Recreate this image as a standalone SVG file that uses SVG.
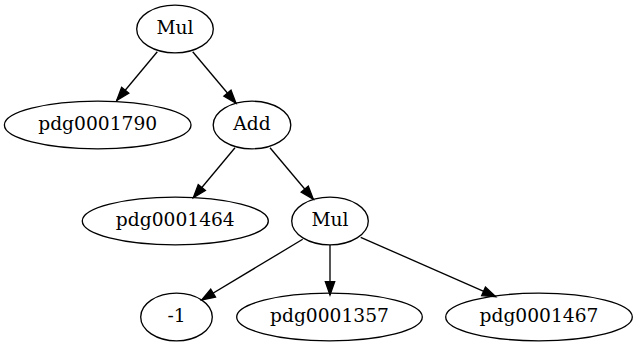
<svg xmlns="http://www.w3.org/2000/svg" width="637" height="347" viewBox="0 0 637 347">
<style>
ellipse{fill:none;stroke:#000;stroke-width:1.33}
text{font-family:"DejaVu Serif",serif;font-size:18.67px;text-anchor:middle;fill:#000}
.e line{stroke:#000;stroke-width:1.33}
</style>
<defs>
<marker id="a" markerUnits="userSpaceOnUse" markerWidth="14" markerHeight="10" refX="13.3" refY="4.67" orient="auto" overflow="visible">
<path d="M0,0 L13.3,4.67 L0,9.33 z" fill="#000" stroke="#000" stroke-width="1.33"/>
</marker>
</defs>
<rect width="637" height="347" fill="#fff"/>
<g class="e" id="edges">
<line x1="157.3" y1="51.7" x2="116.7" y2="100.5" marker-end="url(#a)"/>
<line x1="192.7" y1="51.7" x2="236" y2="103.3" marker-end="url(#a)"/>
<line x1="235" y1="147.7" x2="193.3" y2="197.7" marker-end="url(#a)"/>
<line x1="270" y1="147.7" x2="313.3" y2="199.3" marker-end="url(#a)"/>
<line x1="302.7" y1="239.3" x2="201.7" y2="300" marker-end="url(#a)"/>
<line x1="330" y1="245" x2="330" y2="295" marker-end="url(#a)"/>
<line x1="360.7" y1="237.3" x2="495.7" y2="296.7" marker-end="url(#a)"/>
</g>
<g id="mul1"><ellipse cx="175" cy="29" rx="38.3" ry="23.8"/><text x="175" y="34">Mul</text></g>
<g id="pdg0001790"><ellipse cx="97.7" cy="125" rx="93.3" ry="23.8"/><text x="97.7" y="130">pdg0001790</text></g>
<g id="add"><ellipse cx="252" cy="125" rx="38.8" ry="23.8"/><text x="252" y="130">Add</text></g>
<g id="pdg0001464"><ellipse cx="175.3" cy="221" rx="93" ry="23.8"/><text x="175.3" y="226">pdg0001464</text></g>
<g id="mul2"><ellipse cx="330" cy="221" rx="38.3" ry="23.8"/><text x="330" y="226">Mul</text></g>
<g id="neg1"><ellipse cx="176.5" cy="317" rx="35.8" ry="23.8"/><text x="176.5" y="322">-1</text></g>
<g id="pdg0001357"><ellipse cx="329.5" cy="317" rx="92.8" ry="23.8"/><text x="329.5" y="322">pdg0001357</text></g>
<g id="pdg0001467"><ellipse cx="539" cy="317" rx="93.3" ry="23.8"/><text x="539" y="322">pdg0001467</text></g>
</svg>
